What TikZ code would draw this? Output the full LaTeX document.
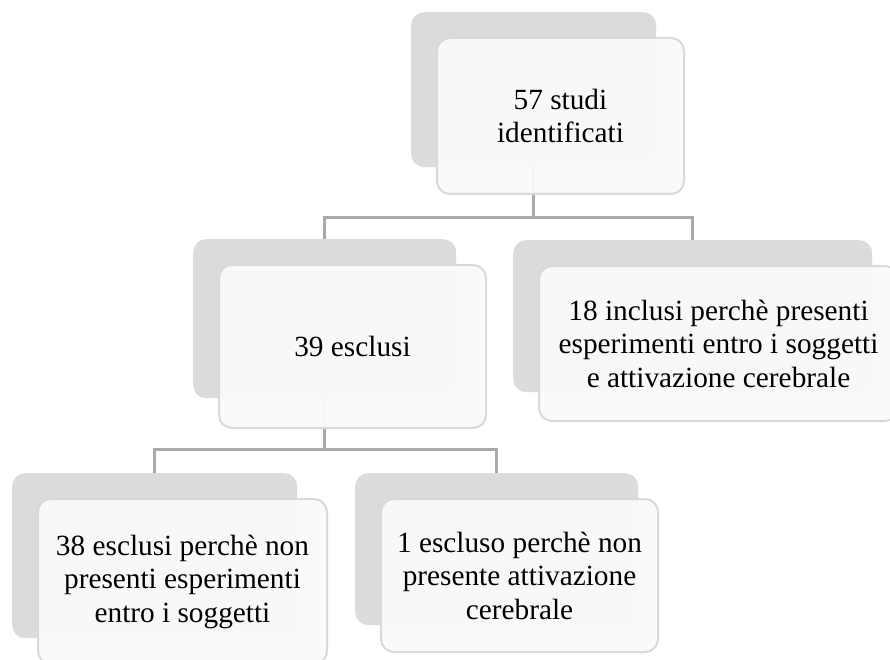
\documentclass[tikz,border=0pt]{standalone}
\usepackage{fontspec}
\setmainfont{Liberation Serif}

\definecolor{backgrey}{HTML}{DBDBDB}
\definecolor{boxline}{HTML}{D9D9D9}
\definecolor{boxfill}{HTML}{FAFAFA}
\definecolor{linkgrey}{HTML}{A9A9A9}

\tikzset{
  backbox/.style={rectangle,rounded corners=13pt,fill=backgrey,anchor=north west,inner sep=0pt},
  frontbox/.style={rectangle,rounded corners=13pt,draw=boxline,line width=2pt,fill=boxfill,
                   fill opacity=0.95,text opacity=1,anchor=north west,align=center,inner sep=0pt,
                   font=\fontsize{29.3}{33.5}\selectfont},
  link/.style={draw=linkgrey,line width=2.5pt}
}

\begin{document}
\begin{tikzpicture}[x=1pt,y=-1pt]
\useasboundingbox (0,0) rectangle (890,660);

% grey boxes behind
\foreach \name/\x/\y/\w/\h in {top/411/12/245/155, midL/193/239/263/159,
                               midR/513/240/359/152, botL/12/473/285/165, botR/355/473/283/152}
    \node[backbox,minimum width=\w pt,minimum height=\h pt] (\name-b) at (\x,\y) {};

% tree lines
\draw[link] (top-b.south) -- ++(0,50) -| (midL-b.north);
\draw[link] (top-b.south) -- ++(0,50) -| (midR-b.north);
\draw[link] (midL-b.south) -- ++(0,51) -| (botL-b.north);
\draw[link] (midL-b.south) -- ++(0,51) -| (botR-b.north);

% white boxes with the text
\foreach \name/\w/\h/\text in {top/247/156/{57 studi\\identificati},
                               midL/267/163/{39 esclusi},
                               midR/359/155/{18 inclusi perchè presenti\\esperimenti entro i soggetti\\e attivazione cerebrale},
                               botL/289/165/{38 esclusi perchè non\\presenti esperimenti\\entro i soggetti},
                               botR/277/153/{1 escluso perchè non\\presente attivazione\\cerebrale}}
    \node[frontbox,minimum width=\w pt,minimum height=\h pt] (\name) at ([shift={(25,25)}]\name-b.north west) {\text};
\end{tikzpicture}
\end{document}
